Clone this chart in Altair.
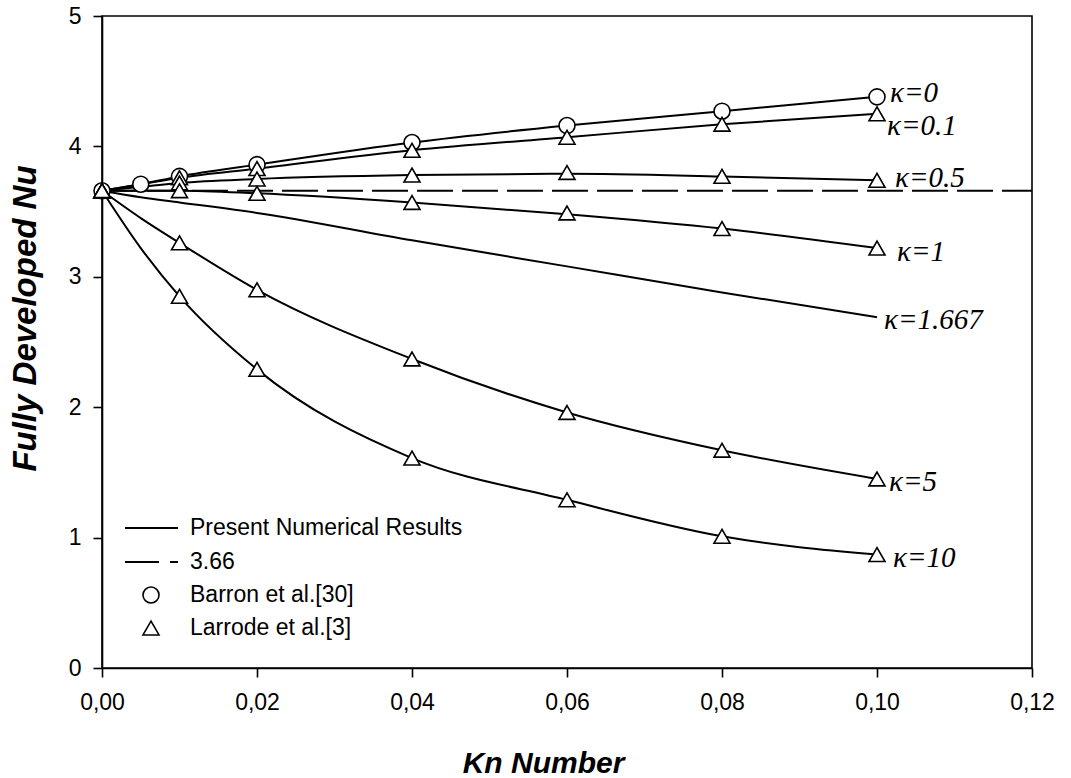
import altair as alt
import pandas as pd

# ---- data ----
kn_line = [0.0, 0.005, 0.01, 0.02, 0.04, 0.06, 0.08, 0.10]
kappas = ["0", "0.1", "0.5", "1", "1.667", "5", "10"]
nu_line = {
    "0":     [3.66, 3.71, 3.77, 3.86, 4.03, 4.16, 4.27, 4.38],
    "0.1":   [3.66, 3.71, 3.76, 3.83, 3.97, 4.07, 4.17, 4.25],
    "0.5":   [3.66, 3.69, 3.72, 3.75, 3.78, 3.79, 3.77, 3.74],
    "1":     [3.66, 3.66, 3.66, 3.64, 3.57, 3.48, 3.37, 3.22],
    "1.667": [3.66, 3.61, 3.57, 3.49, 3.28, 3.08, 2.88, 2.69],
    "5":     [3.66, 3.45, 3.26, 2.90, 2.37, 1.96, 1.67, 1.45],
    "10":    [3.66, 3.22, 2.85, 2.29, 1.61, 1.29, 1.01, 0.87],
}

barron_kn = [0.0, 0.005, 0.01, 0.02, 0.04, 0.06, 0.08, 0.10]
barron_nu = [3.66, 3.71, 3.77, 3.86, 4.03, 4.16, 4.27, 4.38]

larrode_kn = [0.0, 0.01, 0.02, 0.04, 0.06, 0.08, 0.10]
larrode_nu = {
    "0.1": [3.66, 3.76, 3.83, 3.97, 4.07, 4.17, 4.25],
    "0.5": [3.66, 3.72, 3.75, 3.78, 3.80, 3.77, 3.74],
    "1":   [3.66, 3.66, 3.64, 3.57, 3.49, 3.37, 3.22],
    "5":   [3.66, 3.26, 2.90, 2.37, 1.96, 1.67, 1.45],
    "10":  [3.66, 2.85, 2.29, 1.61, 1.29, 1.01, 0.87],
}

ref_nu = 3.66
ref_kn = [0.0, 0.12]

label_text = ["κ=0", "κ=0.1", "κ=0.5", "κ=1", "κ=1.667", "κ=5", "κ=10"]
label_kn = [0.10] * 7
label_nu = [4.41, 4.16, 3.76, 3.19, 2.67, 1.43, 0.84]
label_dx = [13, 10, 18, 20, 7, 12, 16]

legend_labels = ["Present Numerical Results", "3.66", "Barron et al.[30]", "Larrode et al.[3]"]

x_ticks = [0.0, 0.02, 0.04, 0.06, 0.08, 0.10, 0.12]
y_ticks = [0, 1, 2, 3, 4, 5]

# ---- tables ----
line_df = pd.DataFrame(
    [{"kappa": k, "Kn": x, "Nu": v} for k in kappas for x, v in zip(kn_line, nu_line[k])]
)
barron_df = pd.DataFrame({"Kn": barron_kn, "Nu": barron_nu})
larrode_df = pd.DataFrame(
    [{"kappa": k, "Kn": x, "Nu": v} for k, vals in larrode_nu.items() for x, v in zip(larrode_kn, vals)]
)
ref_df = pd.DataFrame({"Kn": [ref_kn[0]], "Kn2": [ref_kn[1]], "Nu": [ref_nu]})

W, H = 930, 652
x_scale = alt.Scale(domain=[0, 0.12], nice=False, zero=False)
y_scale = alt.Scale(domain=[0, 5], nice=False)

x_axis = alt.Axis(
    values=x_ticks, grid=False, tickSize=9, tickWidth=1.6, domainWidth=1.6,
    domainColor="black", tickColor="black",
    labelFont="Liberation Sans", labelFontSize=23, labelColor="black", labelPadding=14,
    labelExpr="replace(format(datum.value, '.2f'), '.', ',')", labelFlush=False,
    title="Kn Number", titleFont="Liberation Sans", titleFontSize=30,
    titleFontWeight="bold", titleFontStyle="italic", titleColor="black",
    titleX=441, titleY=95, titleBaseline="middle", titleAlign="center",
)
y_axis = alt.Axis(
    values=y_ticks, format="d", grid=False, tickSize=9, tickWidth=1.6, domainWidth=1.6,
    domainColor="black", tickColor="black",
    labelFont="Liberation Sans", labelFontSize=23, labelColor="black", labelPadding=12,
    labelFlush=False,
    title="Fully Developed Nu", titleFont="Liberation Sans", titleFontSize=33,
    titleFontWeight="bold", titleFontStyle="italic", titleColor="black",
    titleX=-77, titleY=302, titleBaseline="middle", titleAlign="center", titleAngle=-90,
)

X = alt.X("Kn:Q", scale=x_scale, axis=x_axis)
Y = alt.Y("Nu:Q", scale=y_scale, axis=y_axis)

lines = alt.Chart(line_df).mark_line(
    color="black", strokeWidth=2, interpolate="monotone"
).encode(x=X, y=Y, detail="kappa:N")

ref_line = alt.Chart(ref_df).mark_rule(
    color="black", strokeWidth=2, strokeDash=[36, 9]
).encode(x=alt.X("Kn:Q", scale=x_scale), x2="Kn2:Q", y=alt.Y("Nu:Q", scale=y_scale))

circles = alt.Chart(barron_df).mark_point(
    shape="circle", size=256, filled=True, fill="white", stroke="black", strokeWidth=1.6, opacity=1
).encode(x=alt.X("Kn:Q", scale=x_scale), y=alt.Y("Nu:Q", scale=y_scale))

triangles = alt.Chart(larrode_df).mark_point(
    shape="triangle-up", size=256, filled=True, fill="white", stroke="black", strokeWidth=1.6, opacity=1
).encode(x=alt.X("Kn:Q", scale=x_scale), y=alt.Y("Nu:Q", scale=y_scale), detail="kappa:N")

labels = []
for t, k, n, d in zip(label_text, label_kn, label_nu, label_dx):
    labels.append(
        alt.Chart(pd.DataFrame({"text": [t], "Kn": [k], "Nu": [n]})).mark_text(
            font="Liberation Serif", fontStyle="italic", fontSize=29, color="black",
            align="left", baseline="middle", dx=d,
        ).encode(x=alt.X("Kn:Q", scale=x_scale), y=alt.Y("Nu:Q", scale=y_scale), text="text:N")
    )

# ---- legend (inside plot, lower left) ----
leg_df = pd.DataFrame({"label": legend_labels})
row_y = [512, 546, 579, 612]
legend_layers = []
for i, lab in enumerate(legend_labels):
    legend_layers.append(
        alt.Chart(leg_df).transform_filter(alt.datum.label == lab).mark_text(
            font="Liberation Sans", fontSize=23, color="black", align="left", baseline="middle"
        ).encode(x=alt.value(88), y=alt.value(row_y[i]), text="label:N")
    )
legend_layers.append(
    alt.Chart(leg_df).transform_filter(alt.datum.label == legend_labels[0]).mark_rule(
        color="black", strokeWidth=2
    ).encode(x=alt.value(23), x2=alt.value(76), y=alt.value(row_y[0]))
)
legend_layers.append(
    alt.Chart(leg_df).transform_filter(alt.datum.label == legend_labels[1]).mark_rule(
        color="black", strokeWidth=2, strokeDash=[34, 11, 8, 50]
    ).encode(x=alt.value(23), x2=alt.value(76), y=alt.value(row_y[1]))
)
legend_layers.append(
    alt.Chart(leg_df).transform_filter(alt.datum.label == legend_labels[2]).mark_point(
        shape="circle", size=256, fill="white", filled=True, stroke="black", strokeWidth=1.6, opacity=1
    ).encode(x=alt.value(49), y=alt.value(row_y[2]))
)
legend_layers.append(
    alt.Chart(leg_df).transform_filter(alt.datum.label == legend_labels[3]).mark_point(
        shape="triangle-up", size=256, fill="white", filled=True, stroke="black", strokeWidth=1.6, opacity=1
    ).encode(x=alt.value(49), y=alt.value(row_y[3]))
)

chart = alt.layer(
    lines, ref_line, circles, triangles, *labels, *legend_layers
).properties(
    width=W, height=H,
    autosize=alt.AutoSizeParams(type="none"),
    padding={"left": 102, "top": 16, "right": 39, "bottom": 110},
    background="white",
).configure_view(
    stroke="black", strokeWidth=1.6
)

chart.save("out.html", embed_options={"renderer": "svg", "actions": False})
